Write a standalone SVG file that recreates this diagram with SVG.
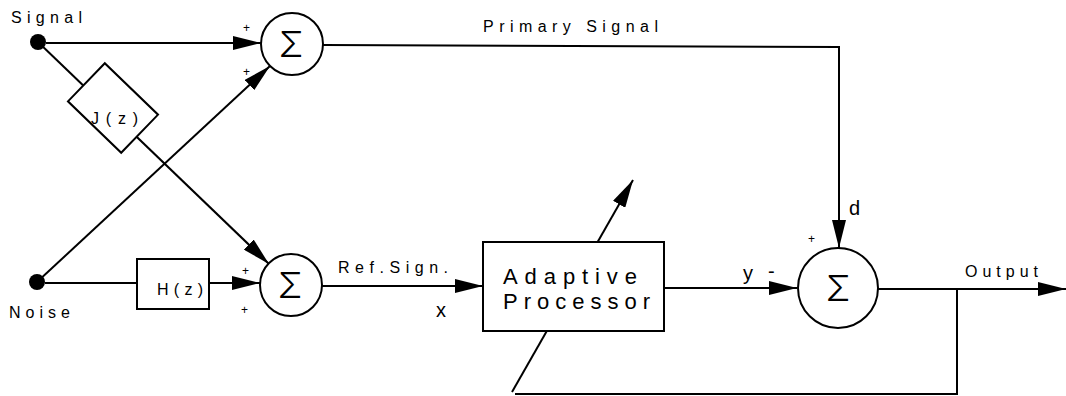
<svg xmlns="http://www.w3.org/2000/svg" width="1066" height="396" viewBox="0 0 1066 396">
<style>
.ln{fill:none;stroke:#000;stroke-width:2}
.bx{fill:#fff;stroke:#000;stroke-width:2}
.t{font-family:"Liberation Sans",Arial,sans-serif;font-size:16px;fill:#000}
.big{font-family:"Liberation Sans",Arial,sans-serif;font-size:22px;fill:#000}
.var{font-family:"Liberation Sans",Arial,sans-serif;font-size:20px;fill:#000}
.pl{font-family:"Liberation Sans",Arial,sans-serif;font-size:12px;fill:#000}
.sg{font-family:Inter,"DejaVu Sans",sans-serif;font-weight:300;font-size:36px;fill:#000;text-anchor:middle}
</style>
<defs>
<marker id="ah" markerUnits="userSpaceOnUse" markerWidth="28" markerHeight="14" refX="28" refY="7" orient="auto">
<path d="M0,0 L28,7 L0,14 z" fill="#000"/>
</marker>
</defs>
<g id="connectors">
<line class="ln" x1="46" y1="43" x2="261" y2="43" marker-end="url(#ah)"/>
<line class="ln" x1="38" y1="42" x2="269" y2="264" marker-end="url(#ah)"/>
<line class="ln" x1="37" y1="282" x2="270" y2="66" marker-end="url(#ah)"/>
<line class="ln" x1="45" y1="283" x2="137" y2="283"/>
<line class="ln" x1="209" y1="283" x2="260" y2="283" marker-end="url(#ah)"/>
<polyline class="ln" points="323,45 839,47 839,248" marker-end="url(#ah)"/>
<line class="ln" x1="322" y1="286" x2="483" y2="286" marker-end="url(#ah)"/>
<line class="ln" x1="664" y1="288" x2="797" y2="288" marker-end="url(#ah)"/>
<line class="ln" x1="878" y1="289" x2="1066" y2="289" marker-end="url(#ah)"/>
<polyline class="ln" points="957,289 957,394 515,394"/>
<line class="ln" x1="512" y1="392" x2="633" y2="180" marker-end="url(#ah)"/>
</g>
<g id="signal">
<circle cx="38" cy="42" r="8" fill="#000"/>
<text class="t" x="11" y="23" textLength="71" lengthAdjust="spacing">Signal</text>
</g>
<g id="noise">
<circle cx="37" cy="282" r="8" fill="#000"/>
<text class="t" x="9" y="318" textLength="61" lengthAdjust="spacing">Noise</text>
</g>
<g id="jz">
<rect class="bx" x="-37" y="-26.5" width="74" height="53" transform="translate(113,108) rotate(44)"/>
<text class="t" x="91" y="124" font-size="18" textLength="47" lengthAdjust="spacing">J(z)</text>
</g>
<g id="hz">
<rect class="bx" x="137" y="259" width="72" height="50"/>
<text class="t" x="157" y="295" font-size="18" textLength="46" lengthAdjust="spacing">H(z)</text>
</g>
<g id="sum1">
<circle class="bx" cx="292" cy="44" r="31"/>
<text class="sg" x="291" y="57">Σ</text>
<text class="pl" x="243" y="32">+</text>
<text class="pl" x="243" y="76">+</text>
</g>
<g id="sum2">
<circle class="bx" cx="291" cy="285" r="31"/>
<text class="sg" x="290" y="298">Σ</text>
<text class="pl" x="242" y="275">+</text>
<text class="pl" x="241" y="314">+</text>
</g>
<g id="processor">
<rect class="bx" x="483" y="242" width="181" height="89"/>
<text class="big" x="503" y="284" textLength="134" lengthAdjust="spacing">Adaptive</text>
<text class="big" x="503" y="309" textLength="147" lengthAdjust="spacing">Processor</text>
</g>
<g id="sum3">
<circle class="bx" cx="838" cy="288" r="40"/>
<text class="sg" x="838" y="301">Σ</text>
<text class="pl" x="808" y="243">+</text>
</g>
<g id="labels">
<text class="t" x="483" y="32" textLength="175" lengthAdjust="spacing">Primary Signal</text>
<text class="t" x="338" y="273" font-size="15" textLength="110" lengthAdjust="spacing">Ref.Sign.</text>
<text class="var" x="436" y="317">x</text>
<text class="var" x="743" y="280">y</text>
<text class="var" x="768" y="278">-</text>
<text class="var" x="849" y="215">d</text>
<text class="t" x="965" y="277" textLength="73" lengthAdjust="spacing">Output</text>
</g>
</svg>
